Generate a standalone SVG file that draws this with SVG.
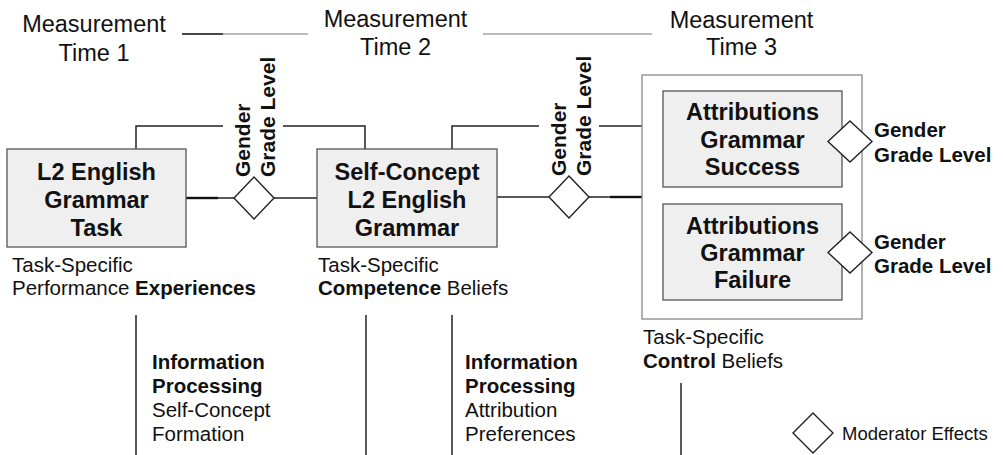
<svg xmlns="http://www.w3.org/2000/svg" width="1003" height="455" viewBox="0 0 1003 455">
<style>
text{font-family:"Liberation Sans",Arial,sans-serif;fill:#111}
.hd{font-size:23.5px;text-anchor:middle}
.bx{fill:#efefef;stroke:#555;stroke-width:1.3}
.outer{fill:#fff;stroke:#888;stroke-width:1.3}
.bt{font-size:23.5px;font-weight:bold;text-anchor:middle}
.mod{font-size:21px;font-weight:bold}
.rl{font-size:20.5px;font-weight:bold}
.lb{font-size:20.5px}
.b{font-weight:bold}
.ln{fill:none;stroke:#222;stroke-width:1.5}
.thk{fill:none;stroke:#111;stroke-width:2.4}
.tl{fill:none;stroke:#777;stroke-width:1.2}
.dm{fill:#fff;stroke:#222;stroke-width:1.4}
</style>
<rect width="1003" height="455" fill="#fff"/>
<g id="headers">
<text class="hd" x="94" y="32">Measurement</text>
<text class="hd" x="94" y="61">Time 1</text>
<text class="hd" x="395.5" y="27">Measurement</text>
<text class="hd" x="395.5" y="55">Time 2</text>
<text class="hd" x="741.5" y="28">Measurement</text>
<text class="hd" x="741.5" y="55">Time 3</text>
</g>
<g id="connectors">
<line class="tl" x1="182" y1="34" x2="308" y2="34"/>
<line x1="182" y1="34" x2="223" y2="34" style="stroke:#222;stroke-width:1.4"/>
<line class="tl" x1="483" y1="34" x2="652" y2="34"/>
<polyline class="ln" points="136,149 136,126 223,126"/>
<polyline class="ln" points="283,126 365,126 365,149"/>
<polyline class="ln" points="452,149 452,126 539,126"/>
<line class="ln" x1="599" y1="126" x2="642" y2="126"/>
<line class="ln" x1="186" y1="198" x2="234" y2="198"/>
<line class="thk" x1="186" y1="198" x2="218" y2="198"/>
<line class="ln" x1="274" y1="198" x2="317" y2="198"/>
<line class="ln" x1="497" y1="197" x2="549" y2="197"/>
<line class="ln" x1="589" y1="197" x2="642" y2="197"/>
<line class="thk" x1="610" y1="197" x2="642" y2="197"/>
<line class="ln" x1="747" y1="187" x2="747" y2="204" style="stroke:#666;stroke-width:1.2"/>
<line class="ln" x1="136" y1="315" x2="136" y2="455"/>
<line class="ln" x1="366" y1="315" x2="366" y2="455"/>
<line class="ln" x1="452" y1="315" x2="452" y2="455"/>
<line class="ln" x1="681" y1="383" x2="681" y2="455"/>
</g>
<g id="task">
<rect class="bx" x="7" y="149" width="179" height="98"/>
<text class="bt" x="96.5" y="180">L2 English</text>
<text class="bt" x="96.5" y="208">Grammar</text>
<text class="bt" x="96.5" y="236">Task</text>
<text class="lb" x="12" y="272">Task-Specific</text>
<text class="lb" x="12" y="295">Performance <tspan class="b">Experiences</tspan></text>
</g>
<g id="moderator1">
<polygon class="dm" points="254,177 274,198 254,219 234,198"/>
<text class="mod" transform="translate(250,177) rotate(-90)">Gender</text>
<text class="mod" transform="translate(275,177) rotate(-90)">Grade Level</text>
</g>
<g id="selfconcept">
<rect class="bx" x="317" y="149" width="180" height="98"/>
<text class="bt" x="407" y="180">Self-Concept</text>
<text class="bt" x="407" y="208">L2 English</text>
<text class="bt" x="407" y="236">Grammar</text>
<text class="lb" x="318" y="272">Task-Specific</text>
<text class="lb" x="318" y="295"><tspan class="b">Competence</tspan> Beliefs</text>
</g>
<g id="moderator2">
<polygon class="dm" points="569,176 589,197 569,218 549,197"/>
<text class="mod" transform="translate(566,176) rotate(-90)">Gender</text>
<text class="mod" transform="translate(591,176) rotate(-90)">Grade Level</text>
</g>
<g id="attributions">
<rect class="outer" x="642" y="75" width="220" height="244"/>
<text class="lb" x="643" y="344">Task-Specific</text>
<text class="lb" x="643" y="368"><tspan class="b">Control</tspan> Beliefs</text>
</g>
<g id="success">
<rect class="bx" x="663" y="91" width="179" height="96"/>
<text class="bt" x="752.5" y="120">Attributions</text>
<text class="bt" x="752.5" y="148">Grammar</text>
<text class="bt" x="752.5" y="175">Success</text>
<polygon class="dm" points="850,121 872,141.5 850,162 828,141.5"/>
<text class="rl" x="874" y="137">Gender</text>
<text class="rl" x="874" y="162">Grade Level</text>
</g>
<g id="failure">
<rect class="bx" x="663" y="204" width="179" height="96"/>
<text class="bt" x="752.5" y="234">Attributions</text>
<text class="bt" x="752.5" y="261">Grammar</text>
<text class="bt" x="752.5" y="288">Failure</text>
<polygon class="dm" points="850,232 872,252.5 850,273 828,252.5"/>
<text class="rl" x="874" y="249">Gender</text>
<text class="rl" x="874" y="273">Grade Level</text>
</g>
<g id="processing1">
<text class="lb" x="152" y="369"><tspan class="b">Information</tspan></text>
<text class="lb" x="152" y="393"><tspan class="b">Processing</tspan></text>
<text class="lb" x="152" y="417">Self-Concept</text>
<text class="lb" x="152" y="441">Formation</text>
</g>
<g id="processing2">
<text class="lb" x="465" y="369"><tspan class="b">Information</tspan></text>
<text class="lb" x="465" y="393"><tspan class="b">Processing</tspan></text>
<text class="lb" x="465" y="417">Attribution</text>
<text class="lb" x="465" y="441">Preferences</text>
</g>
<g id="legend">
<polygon class="dm" points="813,413 833,433 813,453 793,433"/>
<text x="842" y="440" style="font-size:18.5px">Moderator Effects</text>
</g>
</svg>
